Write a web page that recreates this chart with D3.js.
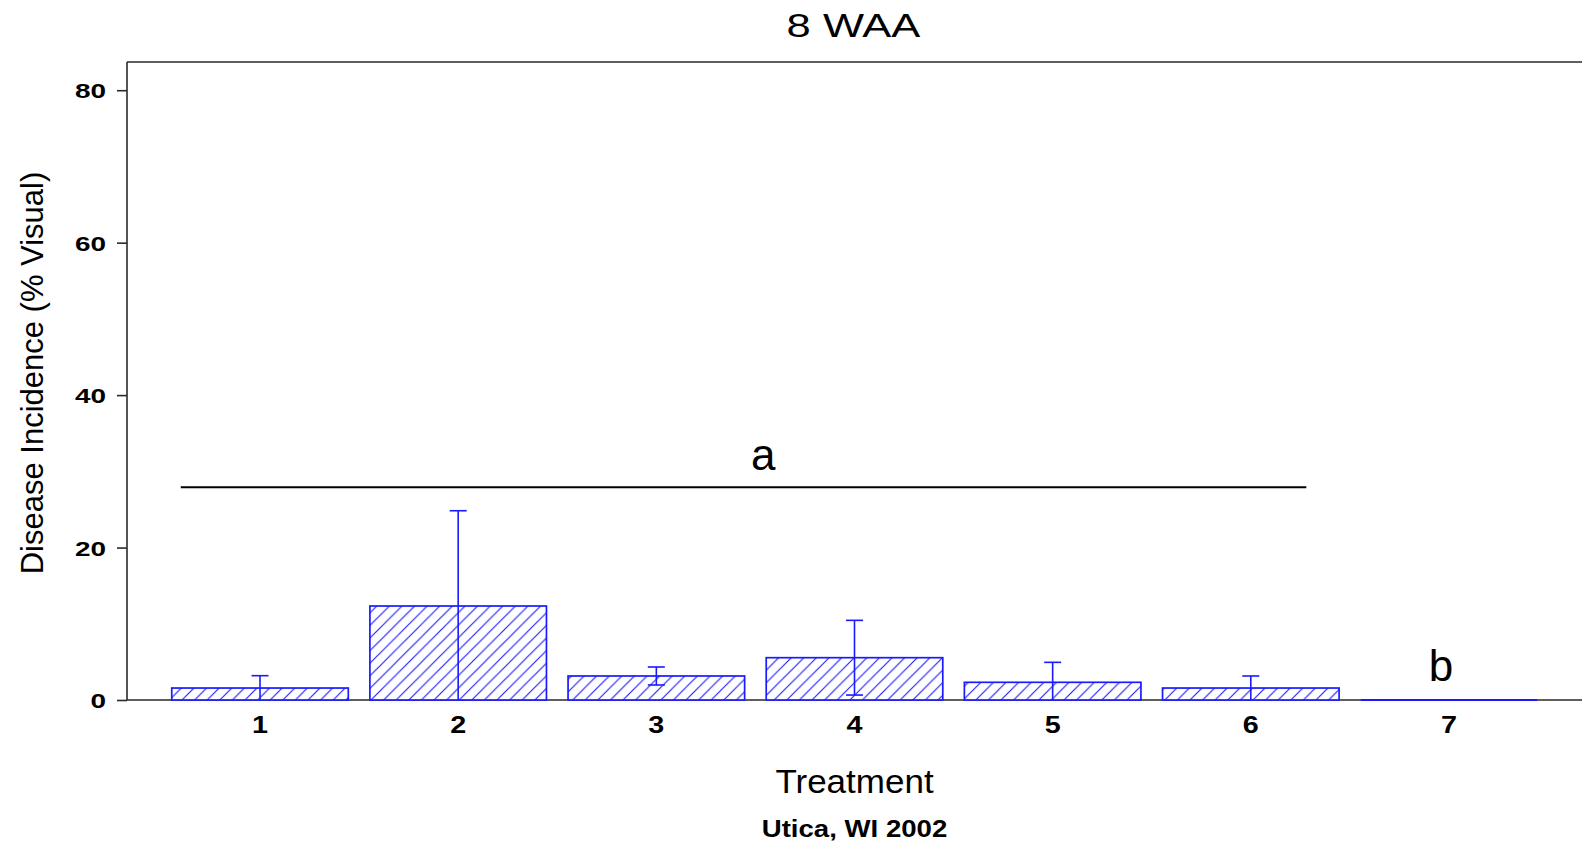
<!DOCTYPE html>
<html>
<head>
<meta charset="utf-8">
<script src="https://cdn.jsdelivr.net/npm/d3@7"></script>
<style>
  html, body { margin: 0; padding: 0; background: #fff; }
  svg { display: block; }
  text { font-family: "Liberation Sans", Arial, sans-serif; fill: #000; }
</style>
</head>
<body>
<svg id="chart" width="1582" height="843"></svg>
<script>
// ---- Data ----
const treatments = ["1", "2", "3", "4", "5", "6", "7"];
const means = [1.57, 12.33, 3.15, 5.55, 2.32, 1.57, 0];
const errors = [1.62, 12.5, 1.18, 4.9, 2.62, 1.58, 0];
const yTicks = [0, 20, 40, 60, 80];
const yDomain = [0, 83.7];
// letter groupings (position in treatment units, y in data units)
const groupLetters = ["a", "b"];
const letterPos = [3.54, 6.96];
const letterY = [30.2, 2.5];
const sigLineFrom = 0.6, sigLineTo = 6.28, sigLineY = 27.9;

const titleText = "8 WAA";
const xTitle = "Treatment";
const yTitle = "Disease Incidence (% Visual)";
const footnote = "Utica, WI 2002";

// ---- Layout ----
const W = 1582, H = 843;
const mLeft = 127, mRight = 1582, mTop = 62, mBottom = 700;
const blue = "#1a1aff";
const axisColor = "#2a2a2a";

const svg = d3.select("#chart");
svg.append("rect").attr("width", W).attr("height", H).attr("fill", "#fff");

const x = d3.scaleBand().domain(treatments).range([mLeft, mRight])
  .paddingInner(0.109).paddingOuter(0.2258);
const y = d3.scaleLinear().domain(yDomain).range([mBottom, mTop]);
const xc = d3.scaleLinear().domain([1, 7])
  .range([x("1") + x.bandwidth() / 2, x("7") + x.bandwidth() / 2]);

// hatch pattern
const s = 12.6;
const defs = svg.append("defs");
const pat = defs.append("pattern").attr("id", "hatch")
  .attr("patternUnits", "userSpaceOnUse").attr("width", s).attr("height", s);
pat.append("rect").attr("width", s).attr("height", s).attr("fill", "#fff");
pat.append("path")
  .attr("d", `M0,${s} L${s},0 M${-s/4},${s/4} L${s/4},${-s/4} M${3*s/4},${5*s/4} L${5*s/4},${3*s/4}`)
  .attr("stroke", blue).attr("stroke-width", 1.1);

// frame top line
svg.append("line").attr("x1", mLeft).attr("x2", mRight).attr("y1", mTop).attr("y2", mTop)
  .attr("stroke", axisColor).attr("stroke-width", 1.6);

// y axis
const yAxis = svg.append("g").attr("transform", `translate(${mLeft},0)`)
  .call(d3.axisLeft(y).tickValues(yTicks).tickSize(10).tickPadding(0).tickSizeOuter(0));
yAxis.select(".domain").remove();
yAxis.selectAll(".tick line").attr("stroke", axisColor).attr("stroke-width", 1.6);
yAxis.selectAll(".tick text")
  .attr("x", 0).attr("dy", "0.36em")
  .attr("transform", "translate(-21,0) scale(1.33,1)")
  .style("font-family", "'Liberation Sans', Arial, sans-serif")
  .style("font-weight", "bold").style("font-size", "21px").attr("fill", "#000");
svg.append("line").attr("x1", mLeft).attr("x2", mLeft).attr("y1", mTop).attr("y2", mBottom)
  .attr("stroke", axisColor).attr("stroke-width", 1.6);

// x axis
svg.append("line").attr("x1", mLeft).attr("x2", mRight).attr("y1", mBottom).attr("y2", mBottom)
  .attr("stroke", axisColor).attr("stroke-width", 1.6);
const xAxis = svg.append("g").attr("transform", `translate(0,${mBottom})`)
  .call(d3.axisBottom(x).tickSize(0).tickPadding(0));
xAxis.select(".domain").remove();
xAxis.selectAll(".tick text")
  .attr("y", 0).attr("dy", 0)
  .attr("transform", "translate(0,32.5) scale(1.25,1)")
  .style("font-family", "'Liberation Sans', Arial, sans-serif")
  .style("font-weight", "bold").style("font-size", "23px").attr("fill", "#000");

// bars
const data = treatments.map((t, i) => ({ t, m: means[i], e: errors[i] }));
svg.append("g").selectAll("rect").data(data.filter(d => d.m > 0)).join("rect")
  .attr("x", d => x(d.t)).attr("width", x.bandwidth())
  .attr("y", d => y(d.m)).attr("height", d => y(0) - y(d.m))
  .attr("fill", "url(#hatch)").attr("stroke", blue).attr("stroke-width", 1.7);
// zero-height bars drawn as a flat outline
svg.append("g").selectAll("line").data(data.filter(d => d.m === 0)).join("line")
  .attr("x1", d => x(d.t)).attr("x2", d => x(d.t) + x.bandwidth())
  .attr("y1", d => y(d.m)).attr("y2", d => y(d.m))
  .attr("stroke", blue).attr("stroke-width", 1.8);

// error bars
const cap = 17;
const eb = svg.append("g").attr("stroke", blue).attr("stroke-width", 1.6);
data.filter(d => d.e > 0).forEach(d => {
  const cx = x(d.t) + x.bandwidth() / 2;
  const lo = Math.max(0, d.m - d.e), hi = d.m + d.e;
  eb.append("line").attr("x1", cx).attr("x2", cx).attr("y1", y(lo)).attr("y2", y(hi));
  eb.append("line").attr("x1", cx - cap / 2).attr("x2", cx + cap / 2).attr("y1", y(hi)).attr("y2", y(hi));
  if (lo > 0) eb.append("line").attr("x1", cx - cap / 2).attr("x2", cx + cap / 2).attr("y1", y(lo)).attr("y2", y(lo));
});

// significance line and letters
svg.append("line").attr("x1", xc(sigLineFrom)).attr("x2", xc(sigLineTo))
  .attr("y1", y(sigLineY)).attr("y2", y(sigLineY))
  .attr("stroke", "#000").attr("stroke-width", 2);
svg.append("g").selectAll("text").data(groupLetters).join("text")
  .attr("x", (d, i) => xc(letterPos[i])).attr("y", (d, i) => y(letterY[i]))
  .attr("text-anchor", "middle").style("font-size", "44px").text(d => d);

// titles
const cxPlot = (mLeft + mRight) / 2;
svg.append("text").attr("transform", `translate(${cxPlot - 1},36.5) scale(1.28,1)`)
  .attr("text-anchor", "middle").style("font-size", "34px").text(titleText);
svg.append("text").attr("transform", `translate(${cxPlot},792.5) scale(1.03,1)`)
  .attr("text-anchor", "middle").style("font-size", "34px").text(xTitle);
svg.append("text").attr("transform", `translate(${cxPlot},837) scale(1.15,1)`)
  .attr("text-anchor", "middle").style("font-size", "24px").style("font-weight", "bold").text(footnote);
svg.append("text").attr("transform", "translate(43,373) rotate(-90)")
  .attr("text-anchor", "middle").style("font-size", "31px").text(yTitle);
</script>
</body>
</html>
